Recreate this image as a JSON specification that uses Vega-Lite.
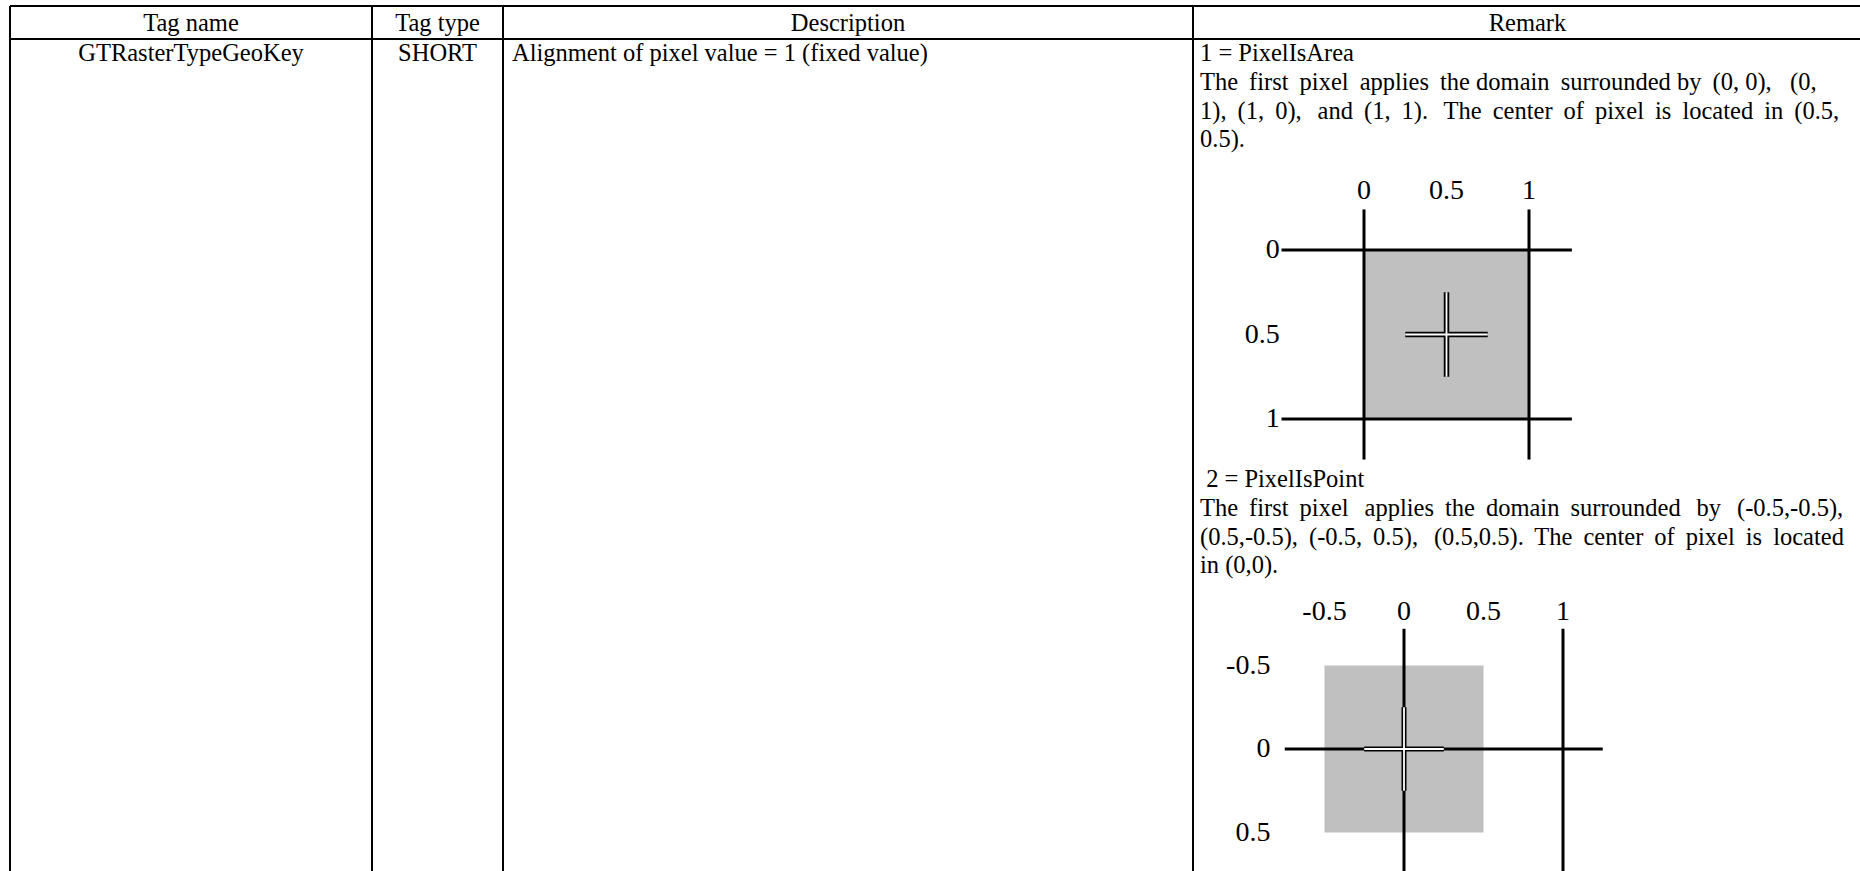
{
  "$schema": "https://vega.github.io/schema/vega-lite/v6.json",
  "width": 1860,
  "height": 871,
  "autosize": {"type": "none"},
  "padding": 0,
  "background": "white",
  "config": {"view": {"stroke": null}},
  "datasets": {
    "grid": [
      {"c1": 0, "c2": 4, "r1": 0, "r2": 0},
      {"c1": 0, "c2": 4, "r1": 1, "r2": 1},
      {"c1": 0, "c2": 0, "r1": 0, "r2": 2},
      {"c1": 1, "c2": 1, "r1": 0, "r2": 2},
      {"c1": 2, "c2": 2, "r1": 0, "r2": 2},
      {"c1": 3, "c2": 3, "r1": 0, "r2": 2}
    ],
    "centeredCells": [
      {"col": 0, "line": -1, "text": "Tag name"},
      {"col": 1, "line": -1, "text": "Tag type"},
      {"col": 2, "line": -1, "text": "Description"},
      {"col": 3, "line": -1, "text": "Remark"},
      {"col": 0, "line": 0, "text": "GTRasterTypeGeoKey"},
      {"col": 1, "line": 0, "text": "SHORT"}
    ],
    "leftCells": [
      {"col": 2, "line": 0, "text": "Alignment of pixel value = 1 (fixed value)"},
      {"col": 3, "line": 0, "text": "1 = PixelIsArea"},
      {"col": 3, "line": 1, "text": "The\u2009 first\u2009 pixel\u2009 applies\u2009 the domain\u2009 surrounded by\u2009 (0, 0),\u00a0\u00a0 (0,"},
      {"col": 3, "line": 2, "text": "1),\u2009 (1,\u2009 0),\u2009\u2009 and\u2009 (1,\u2009 1).\u2009\u2009 The\u2009 center\u2009 of\u2009 pixel\u2009 is\u2009 located\u2009 in\u2009 (0.5,"},
      {"col": 3, "line": 3, "text": "0.5)."},
      {"col": 3, "line": 14, "text": "\u200b\u00a02 = PixelIsPoint"},
      {"col": 3, "line": 15, "text": "The\u2009 first\u2009 pixel\u2009\u2009 applies\u2009 the\u2009 domain\u2009 surrounded\u2009\u2009 by\u2009\u2009 (-0.5,-0.5),"},
      {"col": 3, "line": 16, "text": "(0.5,-0.5),\u2009 (-0.5,\u2009 0.5),\u2009\u2009 (0.5,0.5).\u2009 The\u2009 center\u2009 of\u2009 pixel\u2009 is\u2009 located"},
      {"col": 3, "line": 17, "text": "in (0,0)."}
    ],
    "d1Cell": [{"x": 0, "x2": 1, "y": 0, "y2": 1}],
    "d1Lines": [
      {"x": 0, "x2": 0, "y": -0.24, "y2": 1.24},
      {"x": 1, "x2": 1, "y": -0.24, "y2": 1.24},
      {"x": -0.5, "x2": 1.26, "y": 0, "y2": 0},
      {"x": -0.5, "x2": 1.26, "y": 1, "y2": 1}
    ],
    "d1Cross": [
      {"x": 0.25, "x2": 0.75, "y": 0.5, "y2": 0.5},
      {"x": 0.5, "x2": 0.5, "y": 0.25, "y2": 0.75}
    ],
    "d1Labels": [
      {"axis": "x", "value": 0, "label": "0"},
      {"axis": "x", "value": 0.5, "label": "0.5"},
      {"axis": "x", "value": 1, "label": "1"},
      {"axis": "y", "value": 0, "label": "0"},
      {"axis": "y", "value": 0.5, "label": "0.5"},
      {"axis": "y", "value": 1, "label": "1"}
    ],
    "d2Cell": [{"x": -0.5, "x2": 0.5, "y": -0.5, "y2": 0.5}],
    "d2Lines": [
      {"x": 0, "x2": 0, "y": -0.72, "y2": 0.8},
      {"x": 1, "x2": 1, "y": -0.72, "y2": 0.8},
      {"x": -0.75, "x2": 1.25, "y": 0, "y2": 0}
    ],
    "d2Cross": [
      {"x": -0.25, "x2": 0.25, "y": 0, "y2": 0},
      {"x": 0, "x2": 0, "y": -0.25, "y2": 0.25}
    ],
    "d2Labels": [
      {"axis": "x", "value": -0.5, "label": "-0.5"},
      {"axis": "x", "value": 0, "label": "0"},
      {"axis": "x", "value": 0.5, "label": "0.5"},
      {"axis": "x", "value": 1, "label": "1"},
      {"axis": "y", "value": -0.5, "label": "-0.5"},
      {"axis": "y", "value": 0, "label": "0"},
      {"axis": "y", "value": 0.5, "label": "0.5"}
    ]
  },
  "layer": [
    {
      "data": {"name": "grid"},
      "mark": {"type": "rule", "stroke": "black", "strokeWidth": 2},
      "encoding": {
        "x": {"field": "c1", "type": "quantitative", "scale": {"domain": [0, 1, 2, 3, 4], "range": [10, 372, 503, 1193, 1862], "nice": false, "zero": false}, "axis": null},
        "x2": {"field": "c2"},
        "y": {"field": "r1", "type": "quantitative", "scale": {"domain": [0, 1, 2], "range": [6, 39, 880], "nice": false, "zero": false}, "axis": null},
        "y2": {"field": "r2"}
      }
    },
    {
      "data": {"name": "centeredCells"},
      "mark": {"type": "text", "font": "Liberation Serif", "fontSize": 24.5, "align": "center", "baseline": "middle", "fill": "black"},
      "encoding": {
        "x": {"field": "col", "type": "quantitative", "scale": {"domain": [0, 1, 2, 3], "range": [191, 437.5, 848, 1527.5], "nice": false, "zero": false}, "axis": null},
        "y": {"field": "line", "type": "quantitative", "scale": {"domain": [-1, 0, 3, 14, 17], "range": [23.8, 54, 140.4, 480, 566.4], "nice": false, "zero": false}, "axis": null},
        "text": {"field": "text"}
      }
    },
    {
      "data": {"name": "leftCells"},
      "mark": {"type": "text", "font": "Liberation Serif", "fontSize": 24.5, "align": "left", "baseline": "middle", "fill": "black"},
      "encoding": {
        "x": {"field": "col", "type": "quantitative", "scale": {"domain": [2, 3], "range": [512, 1200], "nice": false, "zero": false}, "axis": null},
        "y": {"field": "line", "type": "quantitative", "scale": {"domain": [-1, 0, 3, 14, 17], "range": [23.8, 54, 140.4, 480, 566.4], "nice": false, "zero": false}, "axis": null},
        "text": {"field": "text"}
      }
    },
    {
      "layer": [
        {
          "data": {"name": "d1Cell"},
          "mark": {"type": "rect", "fill": "#c0c0c0"},
          "encoding": {
            "x": {"field": "x", "type": "quantitative", "scale": {"domain": [0, 1], "range": [1364, 1529], "nice": false, "zero": false}, "axis": null},
            "x2": {"field": "x2"},
            "y": {"field": "y", "type": "quantitative", "scale": {"domain": [0, 1], "range": [250, 419], "nice": false, "zero": false}, "axis": null},
            "y2": {"field": "y2"}
          }
        },
        {
          "data": {"name": "d1Lines"},
          "mark": {"type": "rule", "stroke": "black", "strokeWidth": 3},
          "encoding": {
            "x": {"field": "x", "type": "quantitative", "scale": {"domain": [0, 1], "range": [1364, 1529], "nice": false, "zero": false}, "axis": null},
            "x2": {"field": "x2"},
            "y": {"field": "y", "type": "quantitative", "scale": {"domain": [0, 1], "range": [250, 419], "nice": false, "zero": false}, "axis": null},
            "y2": {"field": "y2"}
          }
        },
        {
          "data": {"name": "d1Cross"},
          "mark": {"type": "rule", "stroke": "black", "strokeWidth": 5.5},
          "encoding": {
            "x": {"field": "x", "type": "quantitative", "scale": {"domain": [0, 1], "range": [1364, 1529], "nice": false, "zero": false}, "axis": null},
            "x2": {"field": "x2"},
            "y": {"field": "y", "type": "quantitative", "scale": {"domain": [0, 1], "range": [250, 419], "nice": false, "zero": false}, "axis": null},
            "y2": {"field": "y2"}
          }
        },
        {
          "data": {"name": "d1Cross"},
          "mark": {"type": "rule", "stroke": "white", "strokeWidth": 1.8},
          "encoding": {
            "x": {"field": "x", "type": "quantitative", "scale": {"domain": [0, 1], "range": [1364, 1529], "nice": false, "zero": false}, "axis": null},
            "x2": {"field": "x2"},
            "y": {"field": "y", "type": "quantitative", "scale": {"domain": [0, 1], "range": [250, 419], "nice": false, "zero": false}, "axis": null},
            "y2": {"field": "y2"}
          }
        },
        {
          "data": {"name": "d1Labels"},
          "transform": [{"filter": "datum.axis === 'x'"}],
          "mark": {"type": "text", "font": "Liberation Serif", "fontSize": 28, "align": "center", "baseline": "middle", "fill": "black"},
          "encoding": {
            "x": {"field": "value", "type": "quantitative", "scale": {"domain": [0, 1], "range": [1364, 1529], "nice": false, "zero": false}, "axis": null},
            "y": {"datum": -0.35, "type": "quantitative", "scale": {"domain": [0, 1], "range": [250, 419], "nice": false, "zero": false}, "axis": null},
            "text": {"field": "label"}
          }
        },
        {
          "data": {"name": "d1Labels"},
          "transform": [{"filter": "datum.axis === 'y'"}],
          "mark": {"type": "text", "font": "Liberation Serif", "fontSize": 28, "align": "right", "baseline": "middle", "fill": "black"},
          "encoding": {
            "x": {"datum": -0.51, "type": "quantitative", "scale": {"domain": [0, 1], "range": [1364, 1529], "nice": false, "zero": false}, "axis": null},
            "y": {"field": "value", "type": "quantitative", "scale": {"domain": [0, 1], "range": [250, 419], "nice": false, "zero": false}, "axis": null},
            "text": {"field": "label"}
          }
        }
      ]
    },
    {
      "layer": [
        {
          "data": {"name": "d2Cell"},
          "mark": {"type": "rect", "fill": "#c0c0c0"},
          "encoding": {
            "x": {"field": "x", "type": "quantitative", "scale": {"domain": [0, 1], "range": [1404, 1563], "nice": false, "zero": false}, "axis": null},
            "x2": {"field": "x2"},
            "y": {"field": "y", "type": "quantitative", "scale": {"domain": [0, 1], "range": [749, 916], "nice": false, "zero": false}, "axis": null},
            "y2": {"field": "y2"}
          }
        },
        {
          "data": {"name": "d2Lines"},
          "mark": {"type": "rule", "stroke": "black", "strokeWidth": 3},
          "encoding": {
            "x": {"field": "x", "type": "quantitative", "scale": {"domain": [0, 1], "range": [1404, 1563], "nice": false, "zero": false}, "axis": null},
            "x2": {"field": "x2"},
            "y": {"field": "y", "type": "quantitative", "scale": {"domain": [0, 1], "range": [749, 916], "nice": false, "zero": false}, "axis": null},
            "y2": {"field": "y2"}
          }
        },
        {
          "data": {"name": "d2Cross"},
          "mark": {"type": "rule", "stroke": "black", "strokeWidth": 5},
          "encoding": {
            "x": {"field": "x", "type": "quantitative", "scale": {"domain": [0, 1], "range": [1404, 1563], "nice": false, "zero": false}, "axis": null},
            "x2": {"field": "x2"},
            "y": {"field": "y", "type": "quantitative", "scale": {"domain": [0, 1], "range": [749, 916], "nice": false, "zero": false}, "axis": null},
            "y2": {"field": "y2"}
          }
        },
        {
          "data": {"name": "d2Cross"},
          "mark": {"type": "rule", "stroke": "white", "strokeWidth": 1.8},
          "encoding": {
            "x": {"field": "x", "type": "quantitative", "scale": {"domain": [0, 1], "range": [1404, 1563], "nice": false, "zero": false}, "axis": null},
            "x2": {"field": "x2"},
            "y": {"field": "y", "type": "quantitative", "scale": {"domain": [0, 1], "range": [749, 916], "nice": false, "zero": false}, "axis": null},
            "y2": {"field": "y2"}
          }
        },
        {
          "data": {"name": "d2Labels"},
          "transform": [{"filter": "datum.axis === 'x'"}],
          "mark": {"type": "text", "font": "Liberation Serif", "fontSize": 28, "align": "center", "baseline": "middle", "fill": "black"},
          "encoding": {
            "x": {"field": "value", "type": "quantitative", "scale": {"domain": [0, 1], "range": [1404, 1563], "nice": false, "zero": false}, "axis": null},
            "y": {"datum": -0.82, "type": "quantitative", "scale": {"domain": [0, 1], "range": [749, 916], "nice": false, "zero": false}, "axis": null},
            "text": {"field": "label"}
          }
        },
        {
          "data": {"name": "d2Labels"},
          "transform": [{"filter": "datum.axis === 'y'"}],
          "mark": {"type": "text", "font": "Liberation Serif", "fontSize": 28, "align": "right", "baseline": "middle", "fill": "black"},
          "encoding": {
            "x": {"datum": -0.84, "type": "quantitative", "scale": {"domain": [0, 1], "range": [1404, 1563], "nice": false, "zero": false}, "axis": null},
            "y": {"field": "value", "type": "quantitative", "scale": {"domain": [0, 1], "range": [749, 916], "nice": false, "zero": false}, "axis": null},
            "text": {"field": "label"}
          }
        }
      ]
    }
  ],
  "resolve": {"scale": {"x": "independent", "y": "independent"}}
}
